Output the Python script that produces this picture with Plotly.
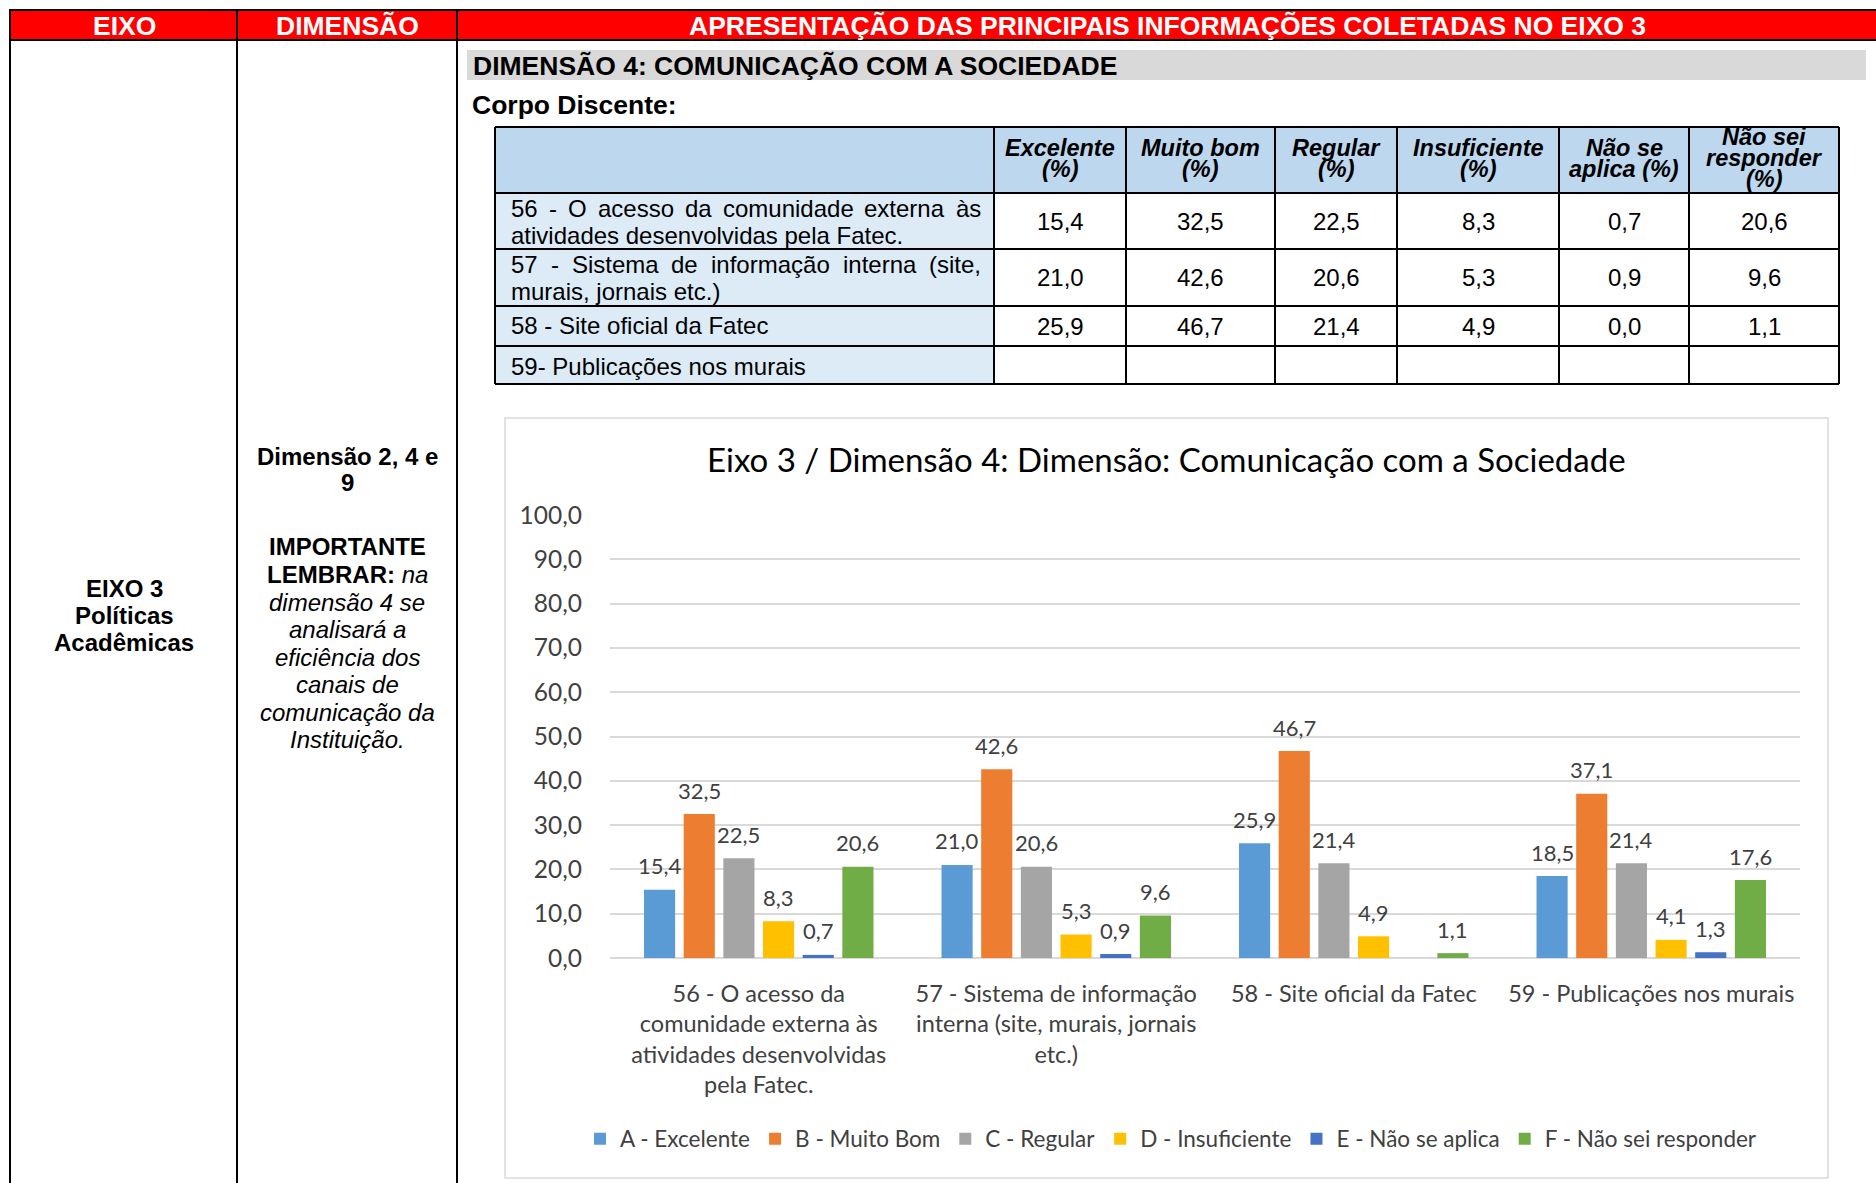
import plotly.graph_objects as go

W, H = 1876, 1183

# ---------------- data ----------------
categories = [
    "56 - O acesso da<br>comunidade externa às<br>atividades desenvolvidas<br>pela Fatec.",
    "57 - Sistema de informação<br>interna (site, murais, jornais<br>etc.)",
    "58 - Site oficial da Fatec",
    "59 - Publicações nos murais",
]
series_names = ["A - Excelente", "B - Muito Bom", "C - Regular", "D - Insuficiente",
                "E - Não se aplica", "F - Não sei responder"]
excelente = [15.4, 21.0, 25.9, 18.5]
muito_bom = [32.5, 42.6, 46.7, 37.1]
regular = [22.5, 20.6, 21.4, 21.4]
insuficiente = [8.3, 5.3, 4.9, 4.1]
nao_se_aplica = [0.7, 0.9, 0.0, 1.3]
nao_sei = [20.6, 9.6, 1.1, 17.6]
series_colors = ["#5B9BD5", "#ED7D31", "#A5A5A5", "#FFC000", "#4472C4", "#70AD47"]

y_ticks = [0, 10, 20, 30, 40, 50, 60, 70, 80, 90, 100]

table_headers = [["Excelente", "(%)"], ["Muito bom", "(%)"], ["Regular", "(%)"],
                 ["Insuficiente", "(%)"], ["Não se", "aplica (%)"], ["Não sei", "responder", "(%)"]]
table_row_labels = [
    ["56 - O acesso da comunidade externa às", "atividades desenvolvidas pela Fatec."],
    ["57 - Sistema de informação interna (site,", "murais, jornais etc.)"],
    ["58 - Site oficial da Fatec"],
    ["59- Publicações nos murais"],
]
table_excelente = ["15,4", "21,0", "25,9", ""]
table_muito_bom = ["32,5", "42,6", "46,7", ""]
table_regular = ["22,5", "20,6", "21,4", ""]
table_insuficiente = ["8,3", "5,3", "4,9", ""]
table_nao_se_aplica = ["0,7", "0,9", "0,0", ""]
table_nao_sei = ["20,6", "9,6", "1,1", ""]

# ---------------- helpers ----------------
DOC = "Liberation Sans, Arial, sans-serif"
CHART = "Lato, Calibri, sans-serif"

def X(px):
    return px / W

def Y(py):
    return 1 - py / H

shapes = []
annotations = []

def rect(x0, y0, x1, y1, fill=None, line=None, lw=2):
    shapes.append(dict(type="rect", xref="paper", yref="paper", layer="below",
                       x0=X(x0), x1=X(x1), y0=Y(y0), y1=Y(y1),
                       fillcolor=fill or "rgba(0,0,0,0)",
                       line=dict(color=line or "rgba(0,0,0,0)", width=lw if line else 0)))

def seg(x0, y0, x1, y1, color="black", lw=2):
    shapes.append(dict(type="line", xref="paper", yref="paper", layer="below",
                       x0=X(x0), x1=X(x1), y0=Y(y0), y1=Y(y1),
                       line=dict(color=color, width=lw)))

def text(x, y, s, size, color="black", xanchor="center", family=DOC):
    annotations.append(dict(x=X(x), y=Y(y), xref="paper", yref="paper", text=s,
                            showarrow=False, xanchor=xanchor, yanchor="middle",
                            borderpad=0, font=dict(size=size, color=color, family=family)))

# Arial / Liberation Sans advance widths (per em) for justified lines
ARIAL_W = {" ": .278, "-": .333, "O": .778, "S": .667, "a": .556, "c": .5, "e": .556,
           "s": .5, "o": .556, "d": .556, "m": .833, "u": .556, "n": .556, "i": .222,
           "t": .278, "x": .5, "r": .333, "à": .556, "f": .278, "ç": .5, "ã": .556,
           "(": .333, ",": .278, "l": .222}

def justified(x0, x1, y, line, size):
    words = line.split(" ")
    widths = [sum(ARIAL_W.get(ch, .556) for ch in w) * size for w in words]
    gap = (x1 - x0 - sum(widths)) / (len(words) - 1)
    xx = x0
    for w, wd in zip(words, widths):
        text(xx, y, w, size, xanchor="left")
        xx += wd + gap

# ---------------- document frame ----------------
rect(10, 10, W + 5, 40, fill="#FF0000", line="black", lw=2)
for vx in [10, 237, 457]:
    seg(vx, 10, vx, H + 5)
text(124, 26, "<b>EIXO</b>", 26.5, color="white")
text(347, 26, "<b>DIMENSÃO</b>", 26.5, color="white")
text(1167, 26, "<b>APRESENTAÇÃO DAS PRINCIPAIS INFORMAÇÕES COLETADAS NO EIXO 3</b>", 26.5, color="white")

rect(467, 50, 1866, 80, fill="#D9D9D9")
text(472, 66, "<b>DIMENSÃO 4: COMUNICAÇÃO COM A SOCIEDADE</b>", 26.5, xanchor="left")
text(471, 105, "<b>Corpo Discente:</b>", 26.5, xanchor="left")

# left columns text
for yy, s in zip([588, 615, 642], ["EIXO 3", "Políticas", "Acadêmicas"]):
    text(124, yy, f"<b>{s}</b>", 24)
dim_lines = [(456, "<b>Dimensão 2, 4 e</b>"), (483, "<b>9</b>"),
             (546, "<b>IMPORTANTE</b>"), (574, "<b>LEMBRAR:</b> <i>na</i>"),
             (602, "<i>dimensão 4 se</i>"), (629, "<i>analisará a</i>"),
             (657, "<i>eficiência dos</i>"), (684, "<i>canais de</i>"),
             (712, "<i>comunicação da</i>"), (739, "<i>Instituição.</i>")]
for yy, s in dim_lines:
    text(347, yy, s, 24)

# ---------------- table ----------------
cols = [495, 994, 1126, 1275, 1397, 1559, 1689, 1839]
rows = [127, 193, 249, 306, 346, 384]
rect(cols[0], rows[0], cols[-1], rows[1], fill="#BDD7EE")
for r in range(1, 5):
    rect(cols[0], rows[r], cols[1], rows[r + 1], fill="#DDEBF7")
for cx in cols:
    seg(cx, rows[0], cx, rows[-1])
for ry in rows:
    seg(cols[0], ry, cols[-1], ry)

for c, hdr in enumerate(table_headers):
    cxm = (cols[c + 1] + cols[c + 2]) / 2
    ys = [148, 169] if len(hdr) == 2 else [137, 158, 179]
    for yy, s in zip(ys, hdr):
        text(cxm, yy, f"<b><i>{s}</i></b>", 23.5)

label_ys = [[208, 236], [264, 292], [325], [366]]
for lines, ys in zip(table_row_labels, label_ys):
    for k, (yy, s) in enumerate(zip(ys, lines)):
        if len(lines) == 2 and k == 0:
            justified(510, 980, yy, s, 24)
        else:
            text(510, yy, s, 24, xanchor="left")

table_cols = [table_excelente, table_muito_bom, table_regular, table_insuficiente,
              table_nao_se_aplica, table_nao_sei]
for c, col in enumerate(table_cols):
    cxm = (cols[c + 1] + cols[c + 2]) / 2
    for r, v in enumerate(col):
        cym = (rows[r + 1] + rows[r + 2]) / 2
        if v:
            text(cxm, cym, v, 24)

# ---------------- chart ----------------
rect(505, 418, 1828, 1178, line="#D9D9D9", lw=1.5)
text(1166, 459, "Eixo 3 / Dimensão 4: Dimensão: Comunicação com a Sociedade", 33,
     color="#000000", family=CHART)

PLOT_X0, PLOT_X1 = 610, 1800
BARGAP, BARGROUPGAP = 0.2, 0.215
all_series = [excelente, muito_bom, regular, insuficiente, nao_se_aplica, nao_sei]
n_series = len(all_series)
slot_px = (PLOT_X1 - PLOT_X0) / len(categories) * (1 - BARGAP) / n_series

fig = go.Figure()
for i, (name, vals, color) in enumerate(zip(series_names, all_series, series_colors)):
    fig.add_trace(go.Bar(
        x=categories, y=vals, name=name,
        marker=dict(color=color, line=dict(width=0)),
    ))
    # data labels, placed through the axis scale with the group offset of this series
    for cat, v in zip(categories, vals):
        if v > 0:
            annotations.append(dict(
                x=cat, y=v, xref="x", yref="y", text=f"{v:.1f}".replace(".", ","),
                showarrow=False, xanchor="center", yanchor="middle",
                xshift=(i - (n_series - 1) / 2) * slot_px, yshift=24,
                font=dict(family=CHART, size=22, color="#404040")))

fig.update_layout(
    width=W, height=H,
    margin=dict(l=0, r=0, t=0, b=0, pad=0, autoexpand=False),
    paper_bgcolor="white", plot_bgcolor="rgba(0,0,0,0)",
    separators=",.",
    barmode="group", bargap=BARGAP, bargroupgap=BARGROUPGAP,
    shapes=shapes, annotations=annotations,
    showlegend=True,
    legend=dict(orientation="h", x=X(1171), xanchor="center", y=Y(1139), yanchor="middle",
                font=dict(family=CHART, size=22.5, color="#404040"), itemwidth=30,
                bgcolor="rgba(0,0,0,0)", traceorder="normal"),
    xaxis=dict(domain=[X(PLOT_X0), X(PLOT_X1)], showgrid=False, showline=False, ticks="",
               tickfont=dict(family=CHART, size=23.5, color="#404040"),
               ticklabelstandoff=19, automargin=False, fixedrange=True),
    yaxis=dict(domain=[Y(958), Y(515)], range=[0, 100], tickvals=y_ticks,
               tickformat=".1f", showgrid=True, gridcolor="#D9D9D9", gridwidth=1.5,
               zeroline=True, zerolinecolor="#D9D9D9", zerolinewidth=1.5,
               showline=False, ticks="",
               tickfont=dict(family=CHART, size=24.5, color="#404040"),
               ticklabelstandoff=27, automargin=False, fixedrange=True),
    font=dict(family=CHART),
)

fig.write_html("out.html", config={"displayModeBar": False},
               post_script="document.body.style.margin='0px';")
